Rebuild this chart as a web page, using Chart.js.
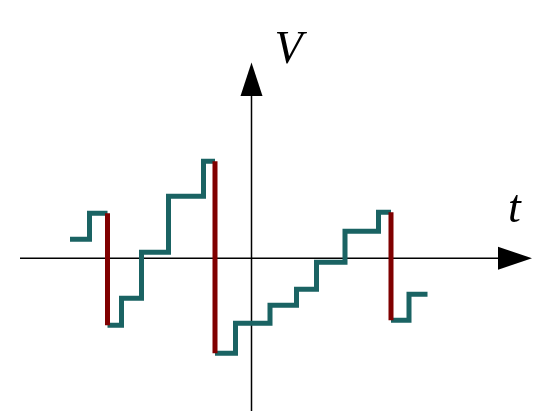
<!DOCTYPE html>
<html>
<head>
<meta charset="utf-8">
<script src="https://cdn.jsdelivr.net/npm/chart.js@4"></script>
<style>
  body { margin: 0; background: #fff; }
  #wrap { width: 544px; height: 411px; position: relative; }
</style>
</head>
<body>
<div id="wrap"><canvas id="stepChart"></canvas></div>
<script>
// Staircase pieces: start of each step, last point closes the last step
const stairT = [-18.15, -16.2, -14.4, null, -14.4, -13.0, -11.0, -8.3, -4.8, -3.65, null,
  -3.65, -1.6, 1.85, 4.5, 6.5, 9.35, 12.7, 13.95, null, 13.95, 15.75, 17.6];
const stairV = [1.9, 4.5, 4.5, null, -6.7, -4.0, 0.6, 6.2, 9.7, 9.7, null,
  -9.5, -6.5, -4.7, -3.1, -0.4, 2.7, 4.6, 4.6, null, -6.2, -3.6, -3.6];

// Reset drops (vertical jumps)
const dropT = [-14.4, -3.65, 13.95];
const dropTop = [4.5, 9.7, 4.6];
const dropBottom = [-6.7, -9.5, -6.2];

const axisLabels = { x: "t", y: "V" };

const stairData = stairT.map((t, i) => ({ x: t === null ? 0 : t, y: stairV[i] }));
const dropData = [];
dropT.forEach((t, i) => {
  dropData.push({ x: t, y: dropTop[i] }, { x: t, y: dropBottom[i] }, { x: t, y: null });
});

// axes with arrowheads, drawn under the data at the scale zero
const axesPlugin = {
  id: "axes",
  beforeDatasetsDraw(chart) {
    const ctx = chart.ctx;
    const xs = chart.scales.x, ys = chart.scales.y;
    const ox = xs.getPixelForValue(0), oy = ys.getPixelForValue(0);
    ctx.save();
    ctx.strokeStyle = "#000";
    ctx.lineWidth = 1.5;
    ctx.beginPath();
    ctx.moveTo(20, oy); ctx.lineTo(499, oy);
    ctx.moveTo(ox, 411); ctx.lineTo(ox, 95);
    ctx.stroke();
    ctx.fillStyle = "#000";
    ctx.beginPath();
    ctx.moveTo(498, oy - 11.5); ctx.lineTo(532, oy); ctx.lineTo(498, oy + 11.5);
    ctx.closePath(); ctx.fill();
    ctx.beginPath();
    ctx.moveTo(ox - 11, 96); ctx.lineTo(ox, 62.5); ctx.lineTo(ox + 11, 96);
    ctx.closePath(); ctx.fill();
    ctx.font = "italic 46px 'Liberation Serif', 'DejaVu Serif', serif";
    ctx.textBaseline = "alphabetic";
    ctx.fillText(axisLabels.y, ox + 23, 63);
    ctx.fillText(axisLabels.x, 508, 222);
    ctx.restore();
  },
};

new Chart(document.getElementById("stepChart"), {
  type: "line",
  data: {
    datasets: [
      {
        label: "drops",
        data: dropData,
        borderColor: "#800000",
        borderWidth: 5,
        pointRadius: 0,
        spanGaps: false,
        borderCapStyle: "butt",
      },
      {
        label: "stairs",
        data: stairData,
        borderColor: "#1a6363",
        borderWidth: 5,
        pointRadius: 0,
        stepped: true,
        spanGaps: false,
        borderCapStyle: "butt",
        borderJoinStyle: "miter",
      },
    ],
  },
  options: {
    responsive: true,
    maintainAspectRatio: false,
    animation: false,
    layout: { padding: 0 },
    plugins: { legend: { display: false }, tooltip: { enabled: false } },
    scales: {
      x: { type: "linear", display: false, min: -25.15, max: 29.25 },
      y: { type: "linear", display: false, min: -15.27, max: 25.83 },
    },
  },
  plugins: [axesPlugin],
});
</script>
</body>
</html>
